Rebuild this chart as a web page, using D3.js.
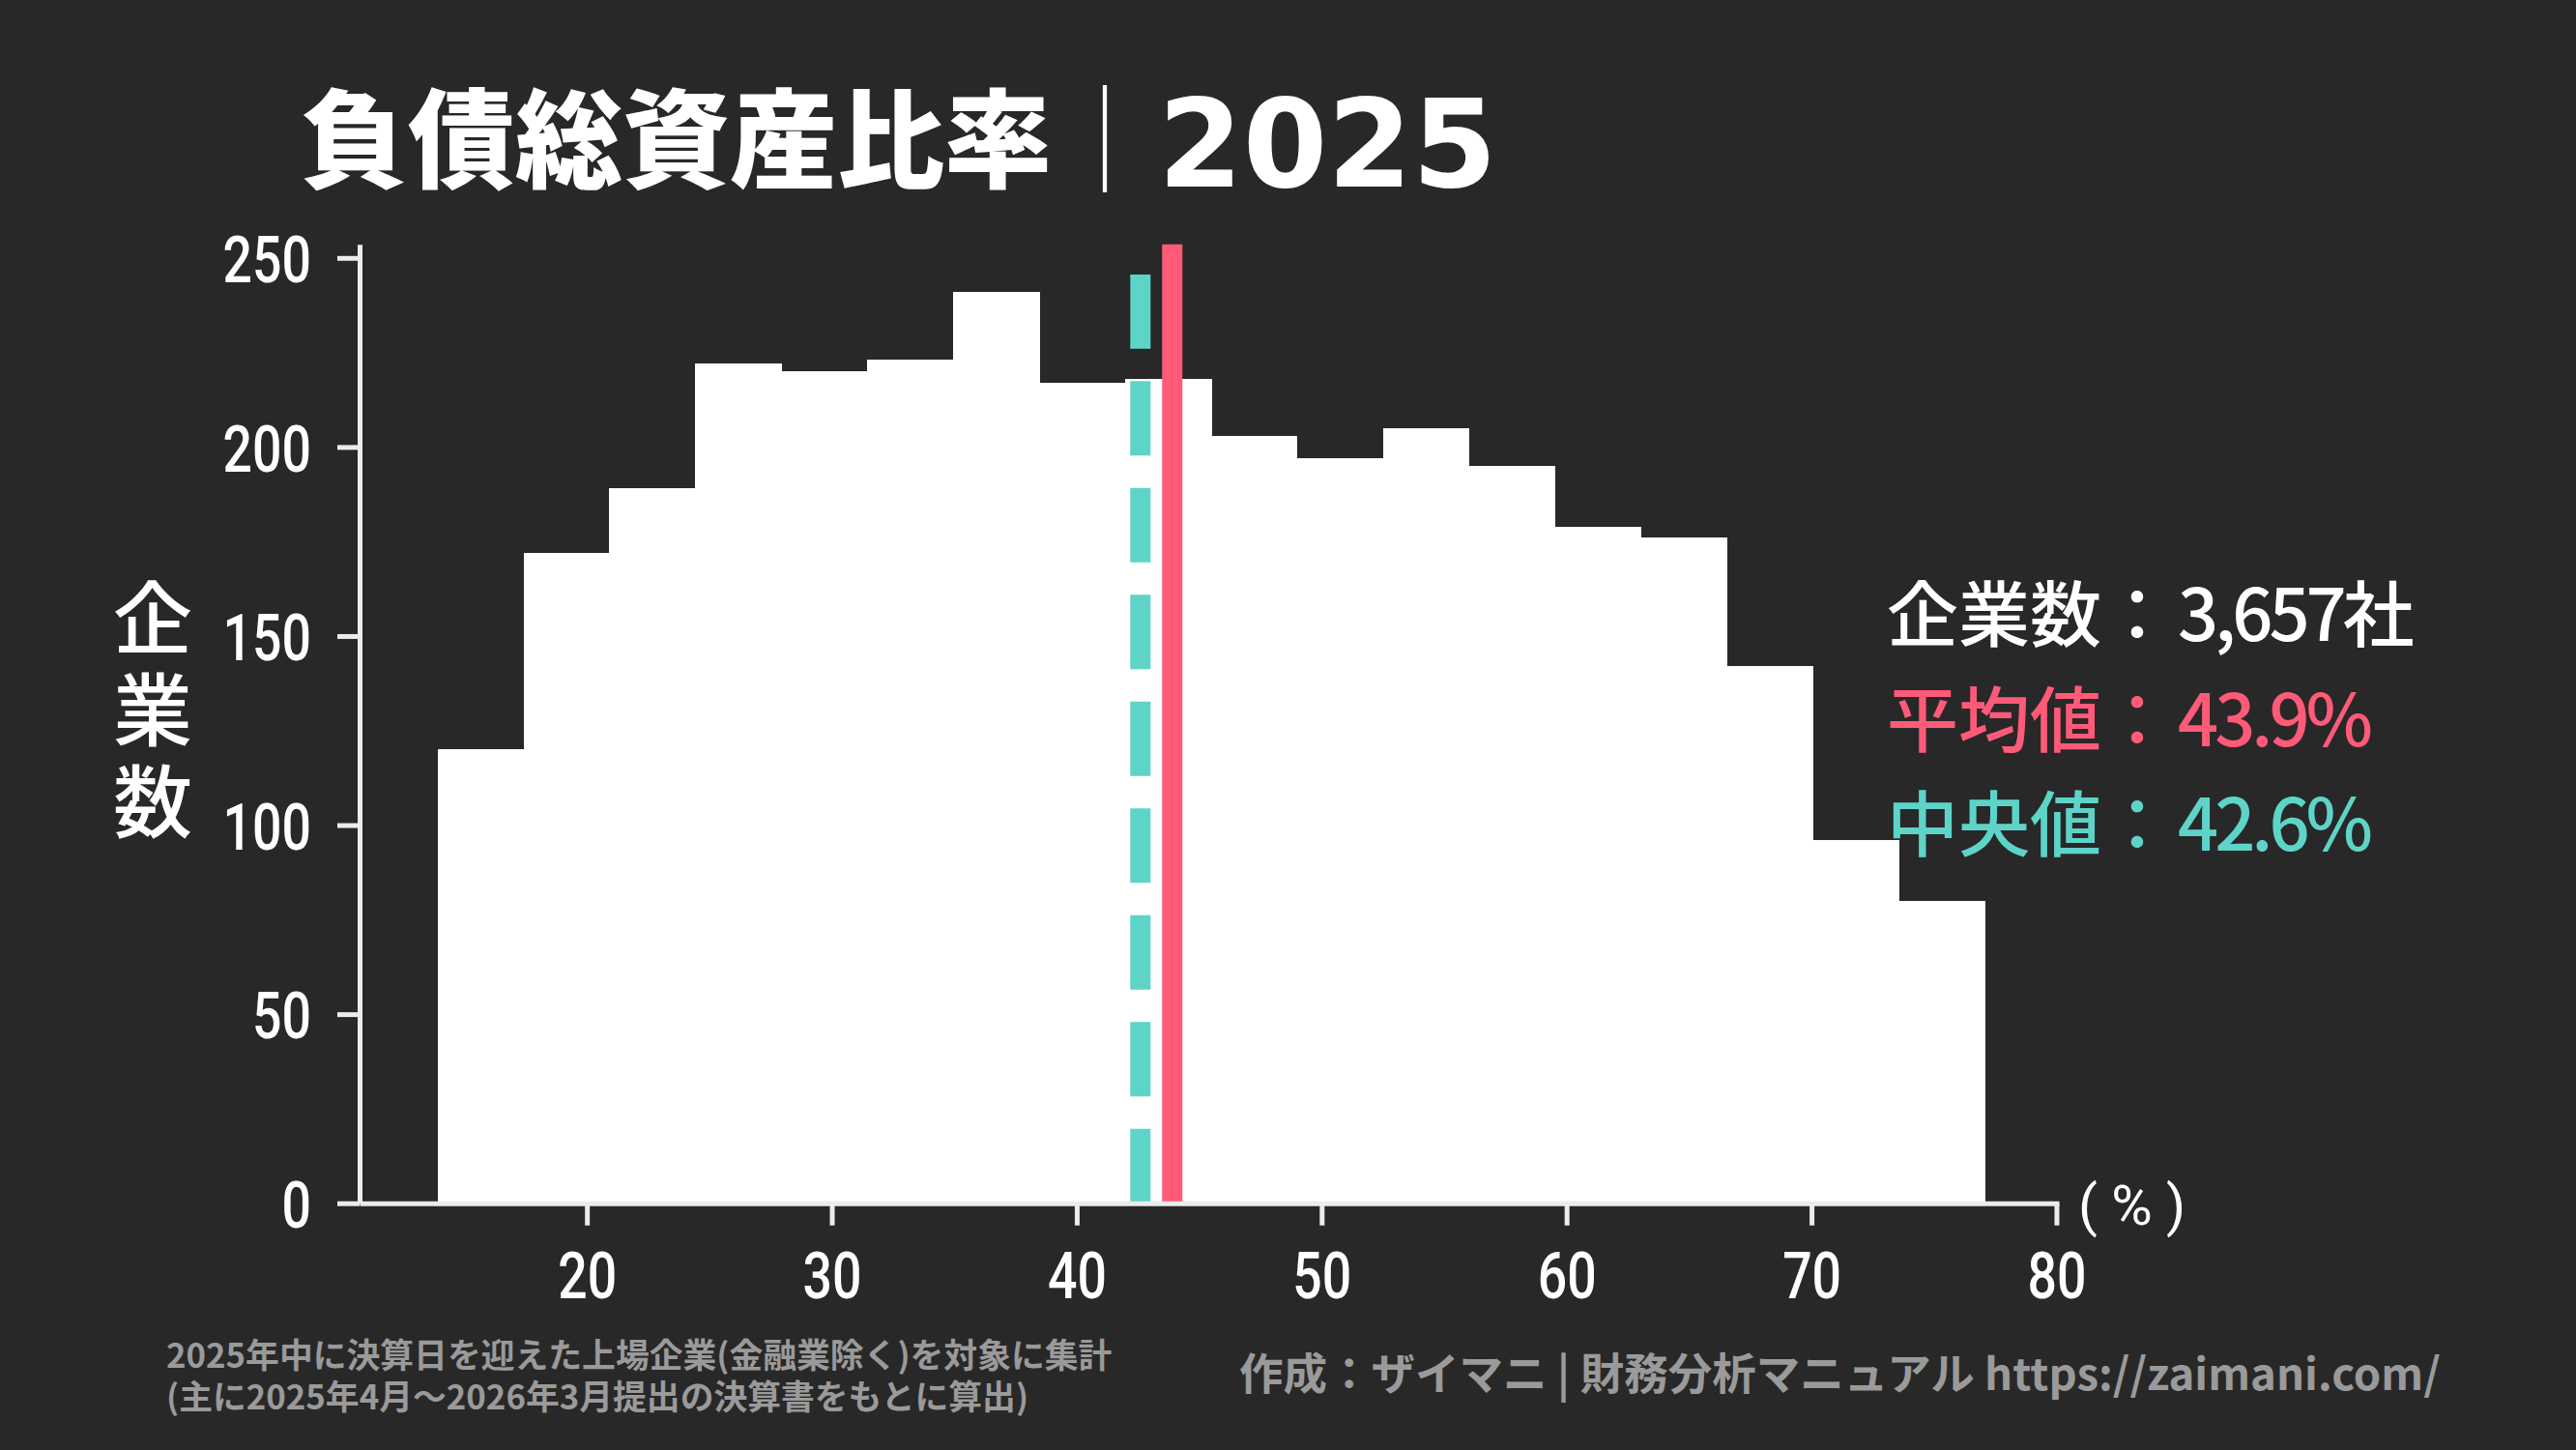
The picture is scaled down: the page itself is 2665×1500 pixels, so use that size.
<!DOCTYPE html>
<html><head><meta charset="utf-8">
<script src="https://cdn.jsdelivr.net/npm/d3@7"></script>
<style>html,body{margin:0;padding:0;background:#282828;overflow:hidden;}</style>
</head><body>
<svg id="chart" width="2665" height="1500"></svg>
<script>
// ---- data ----
const binEdges = [13.9, 17.41, 20.92, 24.43, 27.94, 31.45, 34.96, 38.47, 41.98, 45.49, 49.0, 52.51, 56.02, 59.53, 63.04, 66.55, 70.06, 73.57, 77.08];
const binCounts = [120, 172, 189, 222, 220, 223, 241, 217, 218, 203, 197, 205, 195, 179, 176, 142, 96, 80];
const xTicks = [20, 30, 40, 50, 60, 70, 80];
const yTicks = [0, 50, 100, 150, 200, 250];
const companyCount = "3,657";
const meanValue = 43.9;
const medianValue = 42.6;
const titleMain = "負債総資産比率";
const titleYear = "2025";
const yLabel = "企業数";
const noteLines = ["2025年中に決算日を迎えた上場企業(金融業除く)を対象に集計", "(主に2025年4月～2026年3月提出の決算書をもとに算出)"];
const creditText = "作成：ザイマニ | 財務分析マニュアル https://zaimani.com/";

// ---- layout ----
const W = 2665, H = 1500;
const BG = "#282828", PINK = "#FF5B78", TEAL = "#5ED4C9", AXIS = "#ececec", NOTE = "#9a9a9a";
const JP = "'Noto Sans CJK JP','Noto Sans JP',sans-serif";
const NUM = "Roboto,'Noto Sans',sans-serif";

const svg = d3.select("#chart");
svg.append("rect").attr("width", W).attr("height", H).attr("fill", BG);

const x = d3.scaleLinear().domain([10.72, 80.1]).range([372, 2130]);
const y = d3.scaleLinear().domain([0, 253.6]).range([1244.7, 252.7]);

// bars
const bins = binCounts.map((c, i) => ({x0: binEdges[i], x1: binEdges[i + 1], c}));
svg.append("g").selectAll("rect").data(bins).join("rect")
  .attr("x", d => x(d.x0))
  .attr("width", d => x(d.x1) - x(d.x0) + 0.5)
  .attr("y", d => y(d.c))
  .attr("height", d => y(0) - y(d.c))
  .attr("fill", "#ffffff")
  .attr("shape-rendering", "crispEdges");

// median (dashed) and mean lines
svg.append("line")
  .attr("x1", x(medianValue)).attr("x2", x(medianValue))
  .attr("y1", y(0)).attr("y2", y(245.6))
  .attr("stroke", TEAL).attr("stroke-width", 21)
  .attr("stroke-dasharray", "77 33.5");
svg.append("line")
  .attr("x1", x(meanValue)).attr("x2", x(meanValue))
  .attr("y1", y(0)).attr("y2", y(253.6))
  .attr("stroke", PINK).attr("stroke-width", 21);

// axes
const narrow = 0.8;
const yAxis = svg.append("g").attr("transform", `translate(${x.range()[0]},0)`)
  .call(d3.axisLeft(y).tickValues(yTicks).tickSize(23).tickSizeOuter(0).tickPadding(0));
const xAxis = svg.append("g").attr("transform", `translate(0,${y(0)})`)
  .call(d3.axisBottom(x).tickValues(xTicks).tickSize(23).tickSizeOuter(0).tickPadding(0));
[yAxis, xAxis].forEach(g => {
  g.select(".domain").attr("stroke", AXIS).attr("stroke-width", 5);
  g.selectAll(".tick line").attr("stroke", AXIS).attr("stroke-width", 5);
  g.selectAll(".tick text").attr("fill", "#ffffff")
    .attr("font-family", NUM).attr("font-size", 67).attr("font-weight", 500);
});
yAxis.selectAll(".tick text")
  .attr("x", null).attr("dy", null)
  .attr("text-anchor", "end").attr("dominant-baseline", "central")
  .attr("transform", `translate(-50,2) scale(${narrow},1)`);
xAxis.selectAll(".tick text")
  .attr("y", null).attr("dy", null)
  .attr("text-anchor", "middle").attr("dominant-baseline", "central")
  .attr("transform", `translate(0,76) scale(${narrow},1)`);

svg.append("text").attr("x", 2150).attr("y", 1247)
  .attr("dominant-baseline", "central")
  .attr("font-family", NUM).attr("font-size", 58).attr("font-weight", 400)
  .attr("fill", "#ffffff").attr("xml:space", "preserve").text("( % )");

// y label (vertical)
svg.append("text")
  .attr("x", 158).attr("y", 740)
  .attr("text-anchor", "middle")
  .style("writing-mode", "vertical-rl")
  .attr("letter-spacing", 13)
  .attr("font-family", JP).attr("font-size", 82).attr("font-weight", 500)
  .attr("fill", "#ffffff").text(yLabel);

// title
svg.append("text").attr("x", 311).attr("y", 186)
  .attr("font-family", JP).attr("font-size", 111).attr("font-weight", 900)
  .attr("fill", "#ffffff").text(titleMain);
svg.append("text").attr("x", 1143).attr("y", 186).attr("text-anchor", "middle")
  .attr("font-family", JP).attr("font-size", 111).attr("font-weight", 300)
  .attr("fill", "#ffffff").text("｜");
svg.append("text").attr("x", 1198).attr("y", 193)
  .attr("font-family", "'DejaVu Sans',sans-serif").attr("font-size", 126).attr("font-weight", 700)
  .attr("fill", "#ffffff").text(titleYear);

// stats legend
const stats = [
  {label: "企業数", value: companyCount + "社", color: "#ffffff"},
  {label: "平均値", value: meanValue.toFixed(1) + "%", color: PINK},
  {label: "中央値", value: medianValue.toFixed(1) + "%", color: TEAL}
];
const st = svg.append("g").selectAll("text").data(stats).join("text")
  .attr("x", 1952).attr("y", (d, i) => 663 + i * 108.5)
  .attr("font-family", JP).attr("font-size", 74).attr("font-weight", 500)
  .attr("fill", d => d.color);
st.append("tspan").text(d => d.label + "：");
st.append("tspan").attr("dx", 5).attr("letter-spacing", -4).text(d => d.value);

// notes (one text, two lines)
const notes = svg.append("text")
  .attr("font-family", JP).attr("font-size", 34.8).attr("font-weight", 700)
  .attr("fill", NOTE);
notes.selectAll("tspan").data(noteLines).join("tspan")
  .attr("x", 172).attr("y", (d, i) => 1415 + i * 43)
  .text(d => d);
svg.append("text").attr("x", 1282).attr("y", 1438)
  .attr("font-family", JP).attr("font-size", 45.5).attr("font-weight", 700)
  .attr("fill", NOTE).text(creditText);
</script>
</body></html>
